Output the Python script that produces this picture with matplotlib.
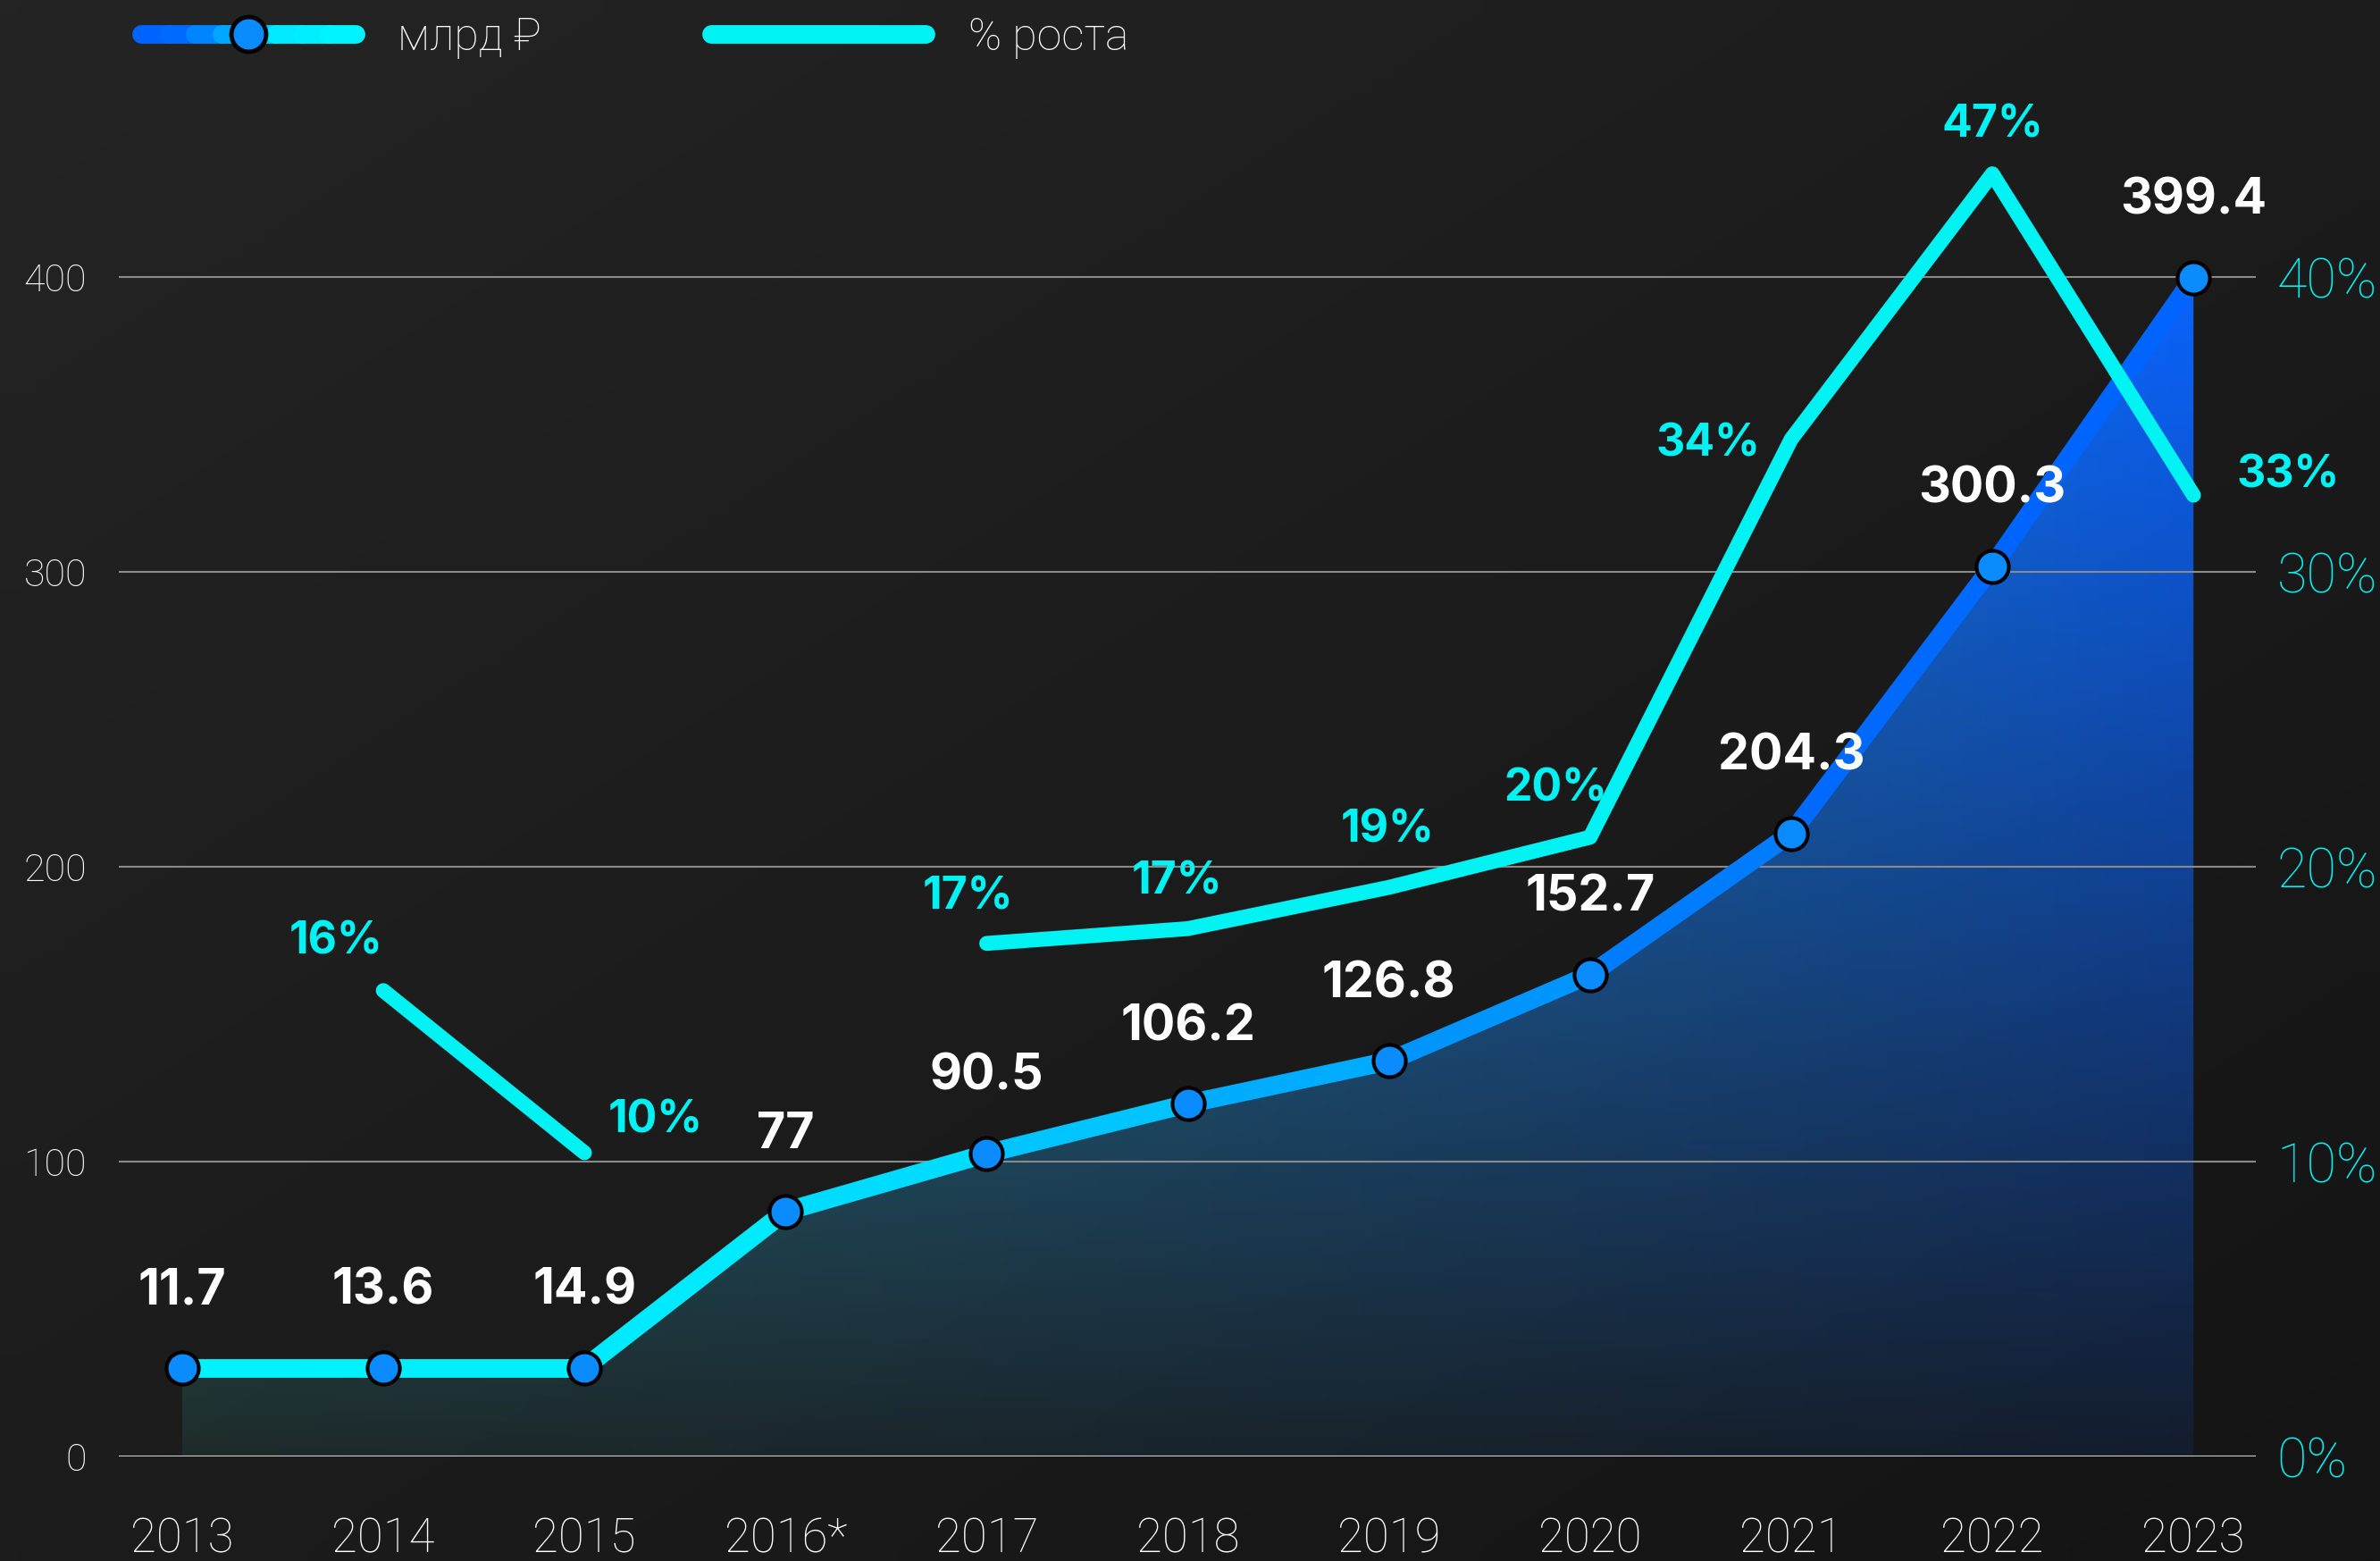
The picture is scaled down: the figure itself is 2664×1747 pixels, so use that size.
import numpy as np
import matplotlib
matplotlib.use("Agg")
import matplotlib.pyplot as plt
from matplotlib.collections import LineCollection
from matplotlib.lines import Line2D
from matplotlib.legend_handler import HandlerBase
from matplotlib.colors import LinearSegmentedColormap, to_rgb

# --- data ---
years = ["2013", "2014", "2015", "2016*", "2017", "2018",
         "2019", "2020", "2021", "2022", "2023"]
value_labels = ["11.7", "13.6", "14.9", "77", "90.5", "106.2",
                "126.8", "152.7", "204.3", "300.3", "399.4"]
# heights at which the original draws the line (it is not to scale)
line_y = [30.1, 30.1, 30.1, 83.1, 102.7, 119.6, 134.1, 163.4, 211.3, 301.9, 399.7]
growth_y = [np.nan, 15.8, 10.3, np.nan, 17.4, 17.9, 19.3, 21.0, 34.5, 43.5, 32.6]
growth_labels = ["", "16%", "10%", "", "17%", "17%", "19%", "20%", "34%", "47%", "33%"]
left_ticks = [0, 100, 200, 300, 400]
right_ticks = [0, 10, 20, 30, 40]

# label offsets (points) for the % labels
growth_offsets = [(0, 0), (-38, 39), (57, 26), (0, 0), (-15, 37), (-9, 38),
                  (-1, 46), (-28, 39), (-67, -4), (0, 39), (76, 16)]

CYAN = "#00f2f2"
THIN = ["Roboto", "DejaVu Sans"]
BOLD = ["Inter", "DejaVu Sans"]

blue_cmap = LinearSegmentedColormap.from_list(
    "bl", [(0.0, "#00f4ff"), (0.3, "#00e8ff"), (0.5, "#00b8ff"),
           (0.7, "#0088ff"), (0.85, "#006aff"), (1.0, "#0062ff")])


class GradientHandler(HandlerBase):
    def __init__(self, colors, lw, **kw):
        super().__init__(**kw)
        self.colors = colors
        self.lw = lw

    def create_artists(self, legend, orig_handle, xdescent, ydescent,
                       width, height, fontsize, trans):
        n = len(self.colors)
        xs = np.linspace(-xdescent, width - xdescent, n + 1)
        y = height / 2 - ydescent
        segs = [[(xs[i], y), (xs[i + 1], y)] for i in range(n)]
        lc = LineCollection(segs, colors=self.colors, linewidths=self.lw,
                            capstyle="round", transform=trans)
        m = Line2D([width / 2 - xdescent], [y], marker="o", ms=28,
                   mfc="#0a8cff", mec="black", mew=3.5, ls="none", transform=trans)
        return [lc, m]


fig = plt.figure(figsize=(26.64, 17.47), dpi=100)

# background
bg = fig.add_axes([0, 0, 1, 1], zorder=-1)
c1, c2 = np.array(to_rgb("#242424")), np.array(to_rgb("#141414"))
gx, gy = np.meshgrid(np.linspace(0, 1, 64), np.linspace(0, 1, 64))
t = (gx + gy) / 2
bg.imshow(c1 + (c2 - c1) * t[..., None], extent=[0, 1, 0, 1],
          aspect="auto", interpolation="bilinear")
bg.axis("off")

ax = fig.add_axes([133 / 2664, 117 / 1747, 2392 / 2664, 1530 / 1747])
ax.set_facecolor("none")
x = np.arange(len(years))
ymax = 1530 / 3.3
x0, x1 = -0.315, 10.31

# area under the line with gradient
poly = ax.fill_between(x, line_y, 0, color="none", lw=0)
H, W = 300, 400
gxx, gyy = np.meshgrid(np.linspace(0, 1, W), np.linspace(0, ymax, H))
fx = np.clip((gxx * (x1 - x0) + x0) / 10, 0, 1)[..., None]
left_c = np.array(to_rgb("#38bcbc"))
right_c = np.array(to_rgb("#0a64ff"))
rgb = left_c + (right_c - left_c) * fx
alpha = np.clip(0.1 + 0.9 * (gyy / 400) ** 1.0, 0, 1)[..., None]
img = ax.imshow(np.concatenate([rgb, alpha], axis=2), extent=[x0, x1, 0, ymax],
                origin="lower", aspect="auto", zorder=1, interpolation="bilinear")
img.set_clip_path(poly.get_paths()[0], transform=ax.transData)

# gradient line
segs = [[(x[i], line_y[i]), (x[i + 1], line_y[i + 1])] for i in range(len(x) - 1)]
cols = [blue_cmap((i + 0.5) / (len(x) - 1)) for i in range(len(x) - 1)]
ax.add_collection(LineCollection(segs, colors=cols, linewidths=15,
                                 capstyle="round", joinstyle="round", zorder=3))
ax.plot(x, line_y, "o", ms=26, mfc="#0a8cff", mec="black", mew=3, zorder=5)

for xi, yi, lab in zip(x, line_y, value_labels):
    ax.annotate(lab, (xi, yi), xytext=(0, 62), textcoords="offset points",
                ha="center", va="center", color="white", fontsize=40,
                family=BOLD, fontweight="bold", zorder=6)

ax.set_xlim(x0, x1)
ax.set_ylim(0, ymax)
ax.set_yticks(left_ticks)
ax.set_yticklabels([str(v) for v in left_ticks], family=THIN, fontweight="light")
ax.set_xticks(x)
ax.set_xticklabels(years, family=THIN, fontweight="light")
ax.tick_params(axis="y", length=0, pad=26, labelsize=31, labelcolor="white")
ax.tick_params(axis="x", length=0, pad=48, labelsize=38, labelcolor="white")
ax.grid(axis="y", color="#8a8a8a", lw=1.5)
ax.axhline(0, color="#cfcfcf", lw=1.5, zorder=2)
for s in ax.spines.values():
    s.set_visible(False)

# growth line on the right axis
tw = ax.twinx()
tw.set_facecolor("none")
tw.set_ylim(0, ymax / 10)
tw.plot(x, growth_y, color=CYAN, lw=12, solid_capstyle="round",
        solid_joinstyle="round", zorder=4)
for xi, yi, lab, off in zip(x, growth_y, growth_labels, growth_offsets):
    if lab:
        tw.annotate(lab, (xi, yi), xytext=off, textcoords="offset points",
                    ha="center", va="center", color=CYAN, fontsize=36,
                    family=BOLD, fontweight="bold")
tw.set_yticks(right_ticks)
tw.set_yticklabels([f"{v}%" for v in right_ticks], family=THIN, fontweight="light")
tw.tick_params(axis="y", length=0, pad=17, labelsize=44, labelcolor=CYAN)
for s in tw.spines.values():
    s.set_visible(False)

# legend
h1 = Line2D([], [])
h2 = Line2D([], [], color=CYAN, lw=15, solid_capstyle="round")
leg_cols = [blue_cmap(1 - i / 7) for i in range(8)]
fig.legend([h1, h2], ["млрд ₽", "% роста"],
           handler_map={h1: GradientHandler(leg_cols, 15)},
           loc="center left", bbox_to_anchor=(158 / 2664, 1 - 42 / 1747),
           ncol=2, frameon=False, borderpad=0, borderaxespad=0,
           handlelength=4.8, handletextpad=0.95, columnspacing=3.8,
           prop={"family": THIN, "weight": "light", "size": 36},
           labelcolor="white")

fig.savefig("out.png", dpi=100, facecolor="#1e1e1e")
